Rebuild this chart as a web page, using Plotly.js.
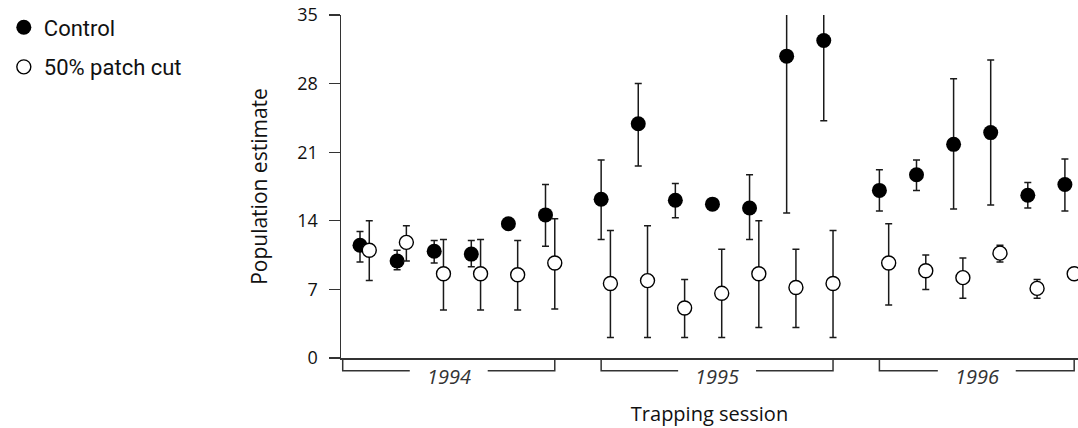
<!DOCTYPE html>
<html>
<head>
<meta charset="utf-8">
<script src="https://cdn.plot.ly/plotly-3.0.1.min.js"></script>
<style>html,body{margin:0;padding:0;background:#fff;}#chart{width:1078px;height:428px;}</style>
</head>
<body>
<div id="chart"></div>
<script>
// ---- data ----
const sessionYear = [1994,1994,1994,1994,1994,1994,
                     1995,1995,1995,1995,1995,1995,1995,
                     1996,1996,1996,1996,1996,1996];
const years = [1994, 1995, 1996];

const controlMean  = [11.5, 9.9, 10.9, 10.6, 13.7, 14.6, 16.2, 23.9, 16.1, 15.7, 15.3, 30.8, 32.4, 17.1, 18.7, 21.8, 23.0, 16.6, 17.7];
const controlUpper = [12.9, 11.0, 12.0, 12.0, 13.7, 17.7, 20.2, 28.0, 17.8, 15.7, 18.7, 46.8, 40.6, 19.2, 20.2, 28.5, 30.4, 17.9, 20.3];
const controlLower = [9.8, 9.0, 9.7, 9.3, 13.7, 11.4, 12.1, 19.6, 14.3, 15.7, 12.1, 14.8, 24.2, 15.0, 17.1, 15.2, 15.6, 15.3, 15.0];

const cutMean  = [11.0, 11.8, 8.6, 8.6, 8.5, 9.7, 7.6, 7.9, 5.1, 6.6, 8.6, 7.2, 7.6, 9.7, 8.9, 8.2, 10.7, 7.1, 8.6];
const cutUpper = [14.0, 13.5, 12.1, 12.1, 12.0, 14.2, 13.0, 13.5, 8.0, 11.1, 14.0, 11.1, 13.0, 13.7, 10.5, 10.2, 11.5, 8.0, 9.1];
const cutLower = [7.9, 9.9, 4.9, 4.9, 4.9, 5.0, 2.1, 2.1, 2.1, 2.1, 3.1, 3.1, 2.1, 5.4, 7.0, 6.1, 9.8, 6.1, 8.1];

const yTicks = [0, 7, 14, 21, 28, 35];
const seriesNames = ['Control', '50% patch cut'];

// ---- positions: session order with a half-step gap between years ----
const xSession = sessionYear.map((yr, i) => i + 1 + 0.5 * years.indexOf(yr));
const pairOffset = 0.25;
const xCut = xSession.map(v => v + pairOffset);
const xRange = [0.488, 20.353];

const up = (u, m) => u.map((v, i) => v - m[i]);
const dn = (l, m) => l.map((v, i) => m[i] - v);

const barColor = '#1a1a1a';
const traces = [
  {
    x: xSession, y: controlMean, name: seriesNames[0], type: 'scatter', mode: 'markers',
    legendgroup: 'a',
    marker: {symbol: 'circle', size: 15, color: '#000', line: {width: 0}},
    error_y: {type: 'data', symmetric: false, array: up(controlUpper, controlMean),
              arrayminus: dn(controlLower, controlMean), color: barColor, thickness: 1.5, width: 3.5}
  },
  {
    x: xCut, y: cutMean, name: seriesNames[1], type: 'scatter', mode: 'markers',
    legendgroup: 'b',
    marker: {symbol: 'circle', size: 14, color: '#fff', line: {width: 1.4, color: '#000'}},
    error_y: {type: 'data', symmetric: false, array: up(cutUpper, cutMean),
              arrayminus: dn(cutLower, cutMean), color: barColor, thickness: 1.5, width: 3.5}
  }
];

// ---- year brackets under the axis ----
const shapes = [];
const annotations = [];
const bTop = 0, bBot = -0.037, gap = 1.05;
years.forEach((yr, k) => {
  const xs = xSession.filter((_, i) => sessionYear[i] === yr);
  const left = k === 0 ? xRange[0] + 0.046 : xs[0];
  const right = xs[xs.length - 1] + pairOffset;
  const mid = (left + right) / 2;
  shapes.push({
    type: 'path', xref: 'x', yref: 'paper',
    path: `M ${left},${bTop} L ${left},${bBot} L ${mid - gap},${bBot} M ${mid + gap},${bBot} L ${right},${bBot} L ${right},${bTop}`,
    line: {color: '#333', width: 1.5}
  });
  annotations.push({
    xref: 'x', yref: 'paper', x: mid, y: -0.053, xanchor: 'center', yanchor: 'middle',
    text: '<i>' + yr + '</i>', showarrow: false,
    font: {family: 'Open Sans', size: 20, color: '#333', style: 'italic'}
  });
});

const layout = {
  width: 1078, height: 428,
  margin: {l: 341, r: 0, t: 15, b: 70, pad: 0},
  paper_bgcolor: '#fff', plot_bgcolor: '#fff',
  showlegend: true,
  legend: {
    x: -0.4575, xanchor: 'left', y: 1.025, yanchor: 'top',
    font: {family: 'Roboto', size: 22, color: '#111'},
    bgcolor: 'rgba(0,0,0,0)', traceorder: 'grouped', tracegroupgap: 8
  },
  xaxis: {
    range: xRange, showgrid: false, zeroline: false, showline: true,
    linecolor: '#333', linewidth: 1.5, ticks: '', showticklabels: false,
    title: {text: 'Trapping session', font: {family: 'Open Sans', size: 20, color: '#111'}, standoff: 48}
  },
  yaxis: {
    range: [0, 35], tickvals: yTicks, ticktext: yTicks.map(String),
    showgrid: false, zeroline: false, showline: true,
    linecolor: '#333', linewidth: 1.5, ticks: 'outside', ticklen: 11, tickwidth: 1.3, tickcolor: '#333',
    ticklabelstandoff: 7,
    tickfont: {family: 'Open Sans', size: 18, color: '#111'},
    title: {text: 'Population estimate', font: {family: 'Open Sans', size: 21, color: '#111'}, standoff: 24}
  },
  shapes: shapes,
  annotations: annotations
};

Plotly.newPlot('chart', traces, layout, {displayModeBar: false, staticPlot: true});
</script>
</body>
</html>
